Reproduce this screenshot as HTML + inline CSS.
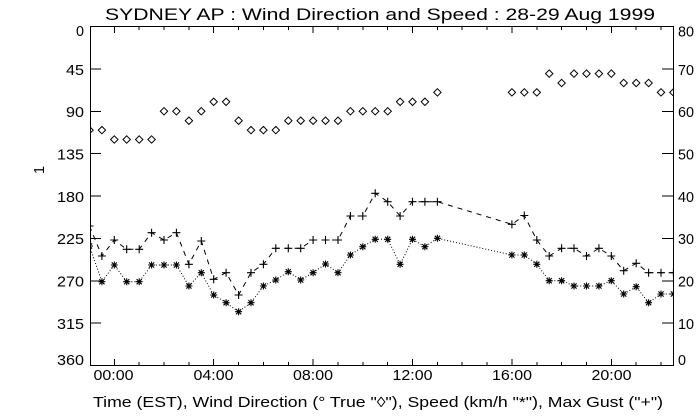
<!DOCTYPE html>
<html><head><meta charset="utf-8"><style>
html,body{margin:0;padding:0;background:#fff;}
svg{display:block;}
text{font-family:"Liberation Sans","DejaVu Sans",sans-serif;fill:#000;}
</style></head><body>
<svg width="700" height="420" viewBox="0 0 700 420" xmlns="http://www.w3.org/2000/svg">
<defs>
<clipPath id="pc"><rect x="90" y="26" width="584" height="340"/></clipPath>
<marker id="st" markerUnits="userSpaceOnUse" markerWidth="10" markerHeight="10" refX="0" refY="0" overflow="visible"><path d="M-3.5,0H3.5M0,-3.5V3.5M-2.6,-2.6L2.6,2.6M-2.6,2.6L2.6,-2.6" stroke="#000" stroke-width="1.1" fill="none" stroke-dasharray="none"/></marker>
<marker id="pl" markerUnits="userSpaceOnUse" markerWidth="10" markerHeight="10" refX="0" refY="0" overflow="visible"><path d="M-4,0H4M0,-4V4" stroke="#000" stroke-width="1.1" fill="none" stroke-dasharray="none"/></marker>
<marker id="dm" markerUnits="userSpaceOnUse" markerWidth="10" markerHeight="10" refX="0" refY="0" overflow="visible"><path d="M0,-3.7L3.7,0L0,3.7L-3.7,0Z" stroke="#000" stroke-width="1" fill="none" stroke-dasharray="none"/></marker>
</defs>

<text x="380" y="20" font-size="17" text-anchor="middle" textLength="550" lengthAdjust="spacingAndGlyphs">SYDNEY AP : Wind Direction and Speed : 28-29 Aug 1999</text>

<g stroke="#000" stroke-width="1" fill="none" shape-rendering="crispEdges">
<rect x="90.5" y="26.5" width="583" height="339"/>
<path d="M90,68.9H101M90,111.3H101M90,153.6H101M90,196H101M90,238.4H101M90,280.8H101M90,323.1H101"/>
<path d="M673,68.9H662M673,111.3H662M673,153.6H662M673,196H662M673,238.4H662M673,280.8H662M673,323.1H662"/>
<path d="M114.3,366V359M139.2,366V362M164,366V362M188.9,366V362M213.7,366V359M238.6,366V362M263.4,366V362M288.3,366V362M313.1,366V359M338,366V362M362.8,366V362M387.7,366V362M412.5,366V359M437.4,366V362M462.2,366V362M487.1,366V362M511.9,366V359M536.8,366V362M561.6,366V362M586.5,366V362M611.3,366V359M636.2,366V362M661,366V362"/>
<path d="M114.3,26V33M139.2,26V30M164,26V30M188.9,26V30M213.7,26V33M238.6,26V30M263.4,26V30M288.3,26V30M313.1,26V33M338,26V30M362.8,26V30M387.7,26V30M412.5,26V33M437.4,26V30M462.2,26V30M487.1,26V30M511.9,26V33M536.8,26V30M561.6,26V30M586.5,26V30M611.3,26V33M636.2,26V30M661,26V30"/>
</g>

<g font-size="14.5" text-anchor="end">
<text x="84" y="36" textLength="8" lengthAdjust="spacingAndGlyphs">0</text>
<text x="84" y="75" textLength="18" lengthAdjust="spacingAndGlyphs">45</text>
<text x="84" y="117" textLength="18" lengthAdjust="spacingAndGlyphs">90</text>
<text x="84" y="159.5" textLength="27" lengthAdjust="spacingAndGlyphs">135</text>
<text x="84" y="202" textLength="27" lengthAdjust="spacingAndGlyphs">180</text>
<text x="84" y="244" textLength="27" lengthAdjust="spacingAndGlyphs">225</text>
<text x="84" y="286.5" textLength="27" lengthAdjust="spacingAndGlyphs">270</text>
<text x="84" y="329" textLength="27" lengthAdjust="spacingAndGlyphs">315</text>
<text x="84" y="365" textLength="27" lengthAdjust="spacingAndGlyphs">360</text>
</g>
<g font-size="14.5">
<text x="678" y="36.5" textLength="16" lengthAdjust="spacingAndGlyphs">80</text>
<text x="678" y="75" textLength="16" lengthAdjust="spacingAndGlyphs">70</text>
<text x="678" y="117" textLength="16" lengthAdjust="spacingAndGlyphs">60</text>
<text x="678" y="159.5" textLength="16" lengthAdjust="spacingAndGlyphs">50</text>
<text x="678" y="202" textLength="16" lengthAdjust="spacingAndGlyphs">40</text>
<text x="678" y="244" textLength="16" lengthAdjust="spacingAndGlyphs">30</text>
<text x="678" y="286.5" textLength="16" lengthAdjust="spacingAndGlyphs">20</text>
<text x="678" y="329" textLength="16" lengthAdjust="spacingAndGlyphs">10</text>
<text x="678" y="365" textLength="8" lengthAdjust="spacingAndGlyphs">0</text>
</g>
<g font-size="14.5" text-anchor="middle">
<text x="113.5" y="380" textLength="40" lengthAdjust="spacingAndGlyphs">00:00</text>
<text x="213.5" y="380" textLength="40" lengthAdjust="spacingAndGlyphs">04:00</text>
<text x="313" y="380" textLength="40" lengthAdjust="spacingAndGlyphs">08:00</text>
<text x="412.5" y="380" textLength="40" lengthAdjust="spacingAndGlyphs">12:00</text>
<text x="512" y="380" textLength="40" lengthAdjust="spacingAndGlyphs">16:00</text>
<text x="611.5" y="380" textLength="40" lengthAdjust="spacingAndGlyphs">20:00</text>
</g>
<text x="93" y="407" font-size="14.5" textLength="570" lengthAdjust="spacingAndGlyphs">Time (EST), Wind Direction (° True "◊"), Speed (km/h "*"), Max Gust ("+")</text>
<text transform="translate(44,170) rotate(-90)" font-size="14.5" text-anchor="middle">1</text>

<g clip-path="url(#pc)">
<polyline fill="none" stroke="#000" stroke-width="1" stroke-dasharray="1,2" marker-start="url(#st)" marker-mid="url(#st)" marker-end="url(#st)" points="89.5,246 101.9,281.7 114.3,265 126.7,281.7 139.2,281.7 151.6,265 164,265 176.4,265 188.9,286 201.3,272.7 213.7,295 226.1,302.7 238.6,311.7 251,302.7 263.4,286 275.8,280 288.3,271.7 300.7,280 313.1,272.7 325.5,264 338,272.7 350.4,255 362.8,246.7 375.2,239.3 387.7,239.3 400.1,264.3 412.5,239.3 424.9,246.7 437.4,238.3 511.9,255 524.3,255 536.8,264.3 549.2,280.7 561.6,280.7 574,286 586.5,286 598.9,286 611.3,280.7 623.7,294 636.2,286.7 648.6,302.7 661,294 673.4,294"/>
<polyline fill="none" stroke="#000" stroke-width="1" stroke-dasharray="5,5" marker-start="url(#pl)" marker-mid="url(#pl)" marker-end="url(#pl)" points="89.5,226 101.9,256 114.3,240 126.7,249.3 139.2,249.3 151.6,232.7 164,240 176.4,232.7 188.9,264.3 201.3,241 213.7,279.3 226.1,272.7 238.6,295 251,272.7 263.4,264.3 275.8,248.3 288.3,248.3 300.7,248.3 313.1,240 325.5,240 338,240 350.4,216 362.8,216 375.2,193.3 387.7,201.7 400.1,216 412.5,201.7 424.9,201.7 437.4,201.7 511.9,224.3 524.3,215.5 536.8,240 549.2,256 561.6,248.3 574,248.3 586.5,256 598.9,248.3 611.3,256 623.7,270.7 636.2,263.3 648.6,272.7 661,272.7 673.4,272.7"/>
<polyline fill="none" stroke="none" marker-start="url(#dm)" marker-mid="url(#dm)" marker-end="url(#dm)" points="89.5,130.1 101.9,130.1 114.3,139.5 126.7,139.5 139.2,139.5 151.6,139.5 164,111.25 176.4,111.25 188.9,120.7 201.3,111.25 213.7,101.8 226.1,101.8 238.6,120.7 251,130.1 263.4,130.1 275.8,130.1 288.3,120.7 300.7,120.7 313.1,120.7 325.5,120.7 338,120.7 350.4,111.25 362.8,111.25 375.2,111.25 387.7,111.25 400.1,101.8 412.5,101.8 424.9,101.8 437.4,92.4 511.9,92.4 524.3,92.4 536.8,92.4 549.2,73.6 561.6,83 574,73.6 586.5,73.6 598.9,73.6 611.3,73.6 623.7,83 636.2,83 648.6,83 661,92.4 673.4,92.4"/>
</g>
</svg>
</body></html>
